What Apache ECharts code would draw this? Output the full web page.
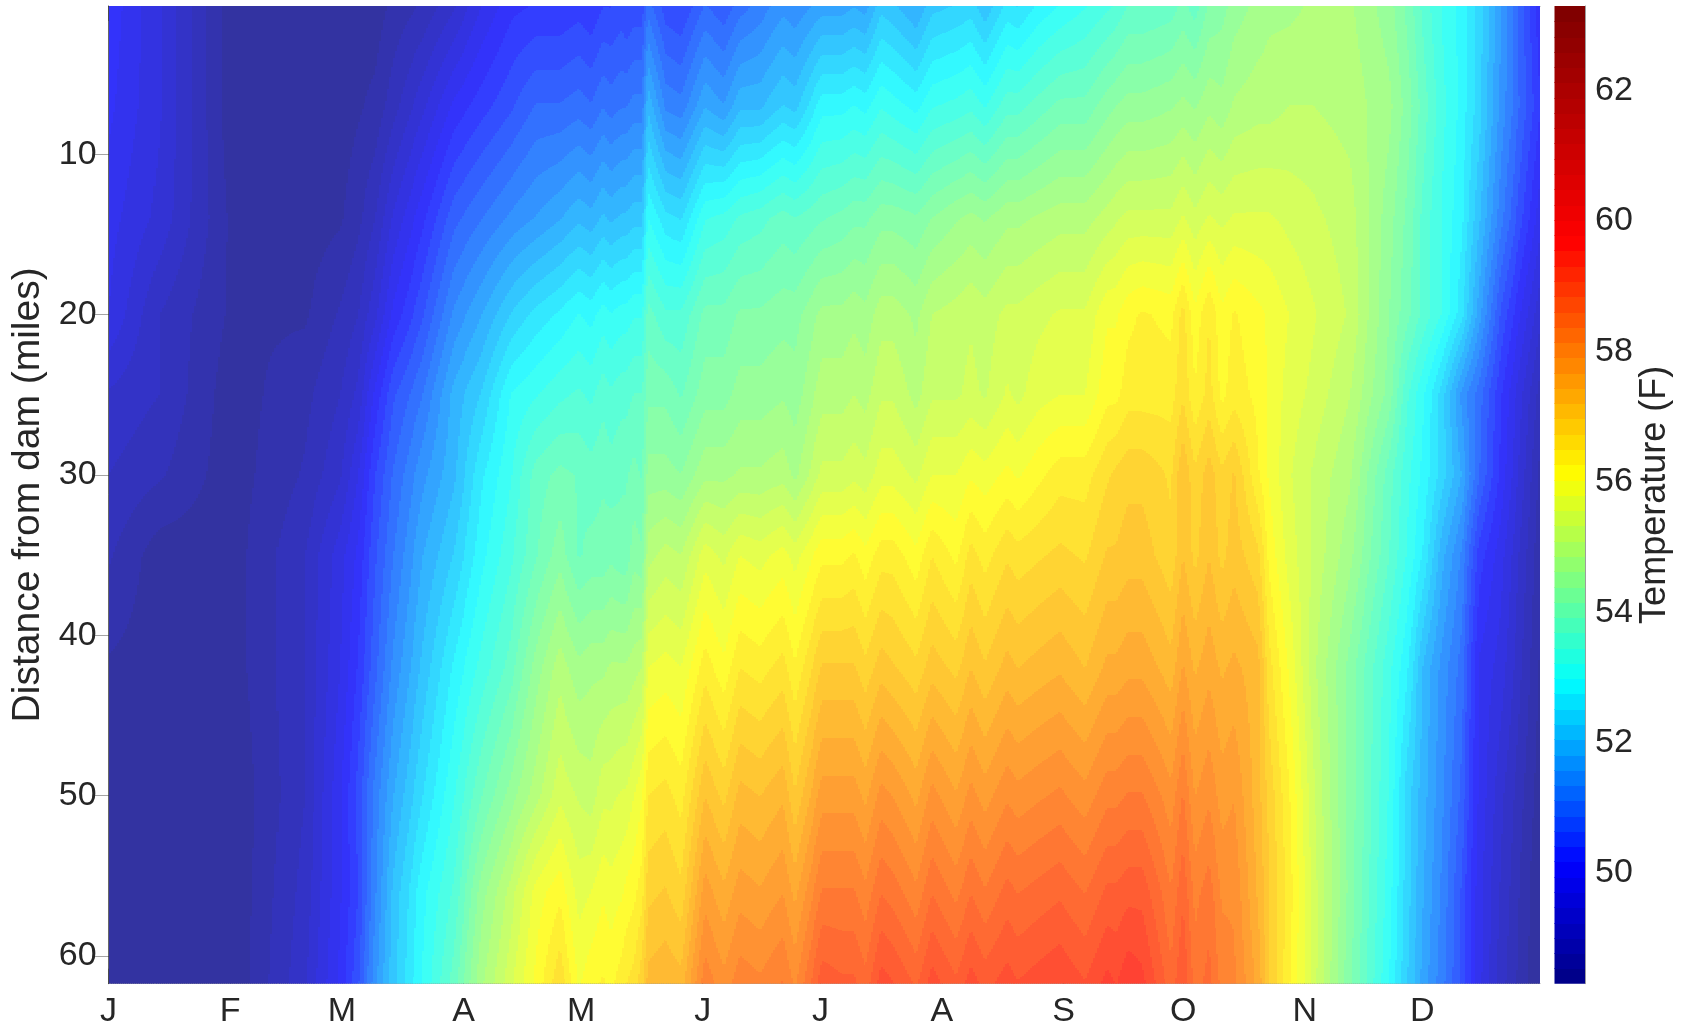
<!DOCTYPE html>
<html>
<head>
<meta charset="utf-8">
<style>html,body{margin:0;padding:0;background:#fff}#c{width:1682px;height:1029px}</style>
<script src="https://cdn.jsdelivr.net/npm/echarts@6/dist/echarts.min.js"></script>
</head>
<body>
<div id="c"></div>
<script>
// Tick labels and positions
const monthLabels = ['J','F','M','A','M','J','J','A','S','O','N','D'];
const monthStarts = [0,31,59.5,90.5,120.5,151.5,181.5,212.5,243.5,274,305,335];
const mileTicks = [10,20,30,40,50,60];
const tempTicks = [50,52,54,56,58,60,62];
const tempMin = 48.3, tempMax = 63.3;

// Sample days (columns)
const days = [0,13,31,50,59,63.5,68,72.5,80,88,95,102.5,109,115,
 120,123,126,128,131,132,134,136,137.5,142,146,152,157,161,166,172,175,182,187,190,193,197,200,206,210,216,220,223.5,229,232,237,242.5,249,254.5,257,260,263.5,271,274,277,280.5,284,287,
 293,296,301,307,316.5,326.5,331,335.5,340,345,349.5,355,365];
// Sample distances (rows)
const miles = [0.75,7,14,20,25,30,35,42,50,56,61.73];

// Temperature (F) read along each distance
const tempMile01 = [50.1,49.5,48.4,48.4,48.4,48.4,48.4,48.6,48.8,49.2,49.7,50.1,50.2,50.2,
 50.3,50.2,50.4,50.4,50.5,50.4,50.5,50.5,51.0,50.5,50.4,50.9,50.7,51.0,51.2,51.5,51.4,51.7,51.7,51.8,51.7,52.2,52.1,51.8,52.2,52.3,52.4,52.1,52.6,52.5,52.8,53.0,53.2,53.4,53.5,53.7,53.7,53.8,54.0,53.8,54.2,54.3,54.5,
 54.7,54.8,54.8,54.9,54.9,54.5,54.1,53.6,53.2,52.9,52.4,51.6,50.0];
const tempMile07 = [50.0,49.5,48.4,48.4,48.4,48.5,48.6,48.9,49.4,50.0,50.3,50.6,50.9,50.9,
 51.0,50.9,51.1,51.0,51.1,51.1,51.2,51.2,52.0,51.3,51.2,51.8,51.6,52.0,52.0,52.3,52.2,52.9,52.9,53.0,52.9,53.2,53.1,52.9,53.2,53.3,53.4,53.2,53.6,53.6,53.8,54.0,54.0,54.3,54.4,54.5,54.5,54.6,54.7,54.6,54.8,54.7,54.9,
 55.0,55.0,55.1,55.1,55.0,54.7,54.3,53.8,53.3,52.9,52.4,51.5,50.2];
const tempMile14 = [49.8,49.4,48.5,48.4,48.5,48.7,49.0,49.5,50.1,50.8,51.1,51.4,51.6,51.8,
 52.0,51.9,52.1,52.0,52.1,52.1,52.2,52.2,53.0,52.6,52.5,53.2,53.3,53.5,53.6,53.8,53.7,53.9,54.0,54.1,54.1,54.3,54.3,54.2,54.4,54.6,54.7,54.6,54.8,54.8,54.9,55.0,55.0,55.2,55.3,55.4,55.4,55.4,55.6,55.4,55.6,55.5,55.6,
 55.6,55.6,55.5,55.4,55.2,54.5,54.1,53.6,53.2,52.8,52.1,51.2,49.8];
const tempMile20 = [49.7,49.0,48.5,48.5,48.8,49.0,49.4,50.0,50.6,51.4,51.8,52.3,52.6,52.8,
 53.0,52.9,53.1,53.0,53.1,53.1,53.2,53.2,53.8,53.5,53.5,54.0,54.0,54.2,54.2,54.3,54.3,54.7,54.7,54.8,54.7,55.0,55.0,54.8,55.1,55.2,55.3,55.2,55.4,55.4,55.5,55.6,55.6,56.0,56.0,56.2,56.3,56.2,56.6,56.1,56.5,56.1,56.3,
 56.1,56.0,55.8,55.6,55.3,54.4,54.0,53.6,53.2,52.6,51.7,50.6,49.3];
const tempMile25 = [49.2,49.0,48.4,48.7,49.0,49.3,50.0,50.6,51.1,51.9,52.3,53.0,53.2,53.4,
 53.5,53.4,53.6,53.5,53.6,53.6,53.7,53.7,54.1,54.1,53.9,54.3,54.3,54.5,54.5,54.6,54.5,55.0,55.0,55.1,55.0,55.3,55.3,55.0,55.3,55.3,55.4,55.3,55.6,55.5,55.7,55.8,55.8,56.2,56.2,56.4,56.4,56.4,56.7,56.3,56.6,56.2,56.4,
 56.2,56.0,55.7,55.5,55.1,54.3,53.5,53.0,52.4,51.5,51.0,50.2,48.9];
const tempMile30 = [49.0,48.8,48.4,48.8,49.2,49.7,50.4,50.9,51.5,52.0,52.7,53.2,53.8,54.0,
 53.9,53.8,53.9,53.8,53.9,53.9,54.0,53.9,54.5,54.5,54.4,54.8,54.8,54.9,54.9,55.0,54.8,55.4,55.4,55.5,55.4,55.7,55.7,55.5,55.8,55.8,56.0,55.9,56.1,56.0,56.2,56.4,56.4,56.7,56.8,56.9,56.9,56.7,57.2,56.8,57.1,56.8,57.0,
 56.3,56.0,55.6,55.3,54.9,53.8,53.3,52.9,52.4,51.8,50.9,50.1,48.7];
const tempMile35 = [48.8,48.4,48.4,49.0,49.6,50.0,50.6,51.1,51.8,52.3,52.9,53.4,53.9,54.3,
 53.9,54.0,54.0,54.1,54.0,54.0,54.3,54.2,55.0,55.2,55.1,55.7,55.5,55.8,55.7,55.9,55.7,56.2,56.2,56.3,56.1,56.4,56.4,56.1,56.5,56.2,56.6,56.4,56.7,56.6,56.7,56.8,56.7,57.0,57.0,57.1,57.1,56.8,57.2,56.9,57.2,56.9,57.1,
 56.8,56.2,55.7,55.3,54.7,53.7,53.2,52.7,51.9,51.3,50.3,49.8,48.6];
const tempMile42 = [48.5,48.4,48.4,49.0,49.7,50.2,50.8,51.4,52.1,52.8,53.3,53.8,54.5,55.0,
 54.7,54.8,54.8,54.9,54.9,54.9,55.0,55.1,55.8,55.9,55.8,56.4,56.1,56.5,56.4,56.6,56.3,57.0,57.0,57.0,56.8,57.1,57.0,56.8,57.1,56.9,57.2,57.0,57.3,57.2,57.3,57.4,57.2,57.5,57.5,57.6,57.6,57.3,57.7,57.4,57.6,57.4,57.5,
 57.3,56.6,56.0,55.2,54.3,53.3,52.8,52.0,51.5,51.0,49.9,49.6,48.5];
const tempMile50 = [48.4,48.3,48.3,49.0,49.9,50.5,51.2,51.8,52.5,53.2,53.9,54.5,55.0,55.5,
 55.3,55.2,55.5,55.5,55.6,55.6,55.8,56.0,56.5,56.6,56.4,57.2,56.9,57.3,57.2,57.4,57.0,57.8,57.8,57.8,57.6,58.0,57.9,57.6,58.0,57.7,58.0,57.8,58.1,58.0,58.1,58.2,58.0,58.3,58.3,58.4,58.4,58.0,58.4,57.9,58.1,57.8,57.9,
 57.3,56.9,56.3,55.4,54.3,53.2,52.4,51.9,51.4,50.8,49.9,49.3,48.4];
const tempMile56 = [48.4,48.3,48.3,49.1,49.9,50.4,51.3,52.1,52.9,53.5,54.5,55.2,55.9,56.2,
 55.7,55.8,56.0,55.9,56.0,56.1,56.2,56.4,56.9,57.0,56.8,57.8,57.5,57.8,57.7,57.9,57.6,58.4,58.4,58.4,58.2,58.6,58.5,58.2,58.6,58.3,58.6,58.4,58.7,58.6,58.7,58.8,58.6,58.9,58.9,59.0,59.0,58.4,58.8,58.3,58.5,58.1,58.1,
 57.4,57.0,56.4,55.5,54.3,53.1,52.4,51.8,51.3,50.6,49.8,49.2,48.3];
const tempMile62 = [48.4,48.3,48.3,49.2,50.0,50.6,51.5,52.2,53.0,53.8,54.8,55.5,56.1,56.7,
 56.0,56.2,56.3,56.2,56.4,56.5,56.6,56.9,57.3,57.4,57.3,58.3,58.0,58.3,58.2,58.4,58.1,59.0,58.9,58.9,58.7,59.2,59.1,58.8,59.2,58.9,59.2,59.0,59.2,59.1,59.2,59.3,59.1,59.4,59.3,59.5,59.4,58.7,59.1,58.5,58.7,58.3,58.2,
 57.6,57.0,56.3,55.5,54.2,53.0,52.3,51.7,51.2,50.6,49.8,49.1,48.3];

const tempRows = [tempMile01,tempMile07,tempMile14,tempMile20,tempMile25,tempMile30,tempMile35,tempMile42,tempMile50,tempMile56,tempMile62];

// Colormap: the reference's jet-like ramp in 64 steps
const rampStops = [[0,[0,0,130]],[0.123,[0,0,255]],[0.31,[0,255,255]],[0.52,[255,255,0]],[0.76,[255,0,0]],[1,[125,0,0]]];
const LEVELS = 64;
function rampColor(f){
  for(let i=1;i<rampStops.length;i++){
    if(f<=rampStops[i][0]){
      const a=rampStops[i-1],b=rampStops[i],t=(f-a[0])/(b[0]-a[0]);
      return a[1].map((c,j)=>c+(b[1][j]-c)*t);
    }
  }
  return rampStops[rampStops.length-1][1];
}
function css(c){return 'rgb('+c.map(Math.round).join(',')+')';}
const solidLevels=[], faceLevels=[];
for(let k=0;k<LEVELS;k++){
  const c=rampColor((k+0.5)/LEVELS);
  solidLevels.push(css(c));
  faceLevels.push(css(c.map(v=>v*0.8+255*0.2)));  // surface drawn at 80% alpha on white
}
function levelOf(t){return Math.max(0,Math.min(LEVELS-1,Math.floor((t-tempMin)/(tempMax-tempMin)*LEVELS)));}

// Filled-contour look: each strip gets a vertical gradient with hard stops at level crossings
function stripStops(vals,offs){
  const st=[]; let cur=levelOf(vals[0]);
  st.push({offset:0,color:faceLevels[cur]});
  for(let r=0;r<vals.length-1;r++){
    const a=vals[r],b=vals[r+1],target=levelOf(b);
    while(cur!==target){
      const dir=target>cur?1:-1;
      const edge=tempMin+(dir>0?cur+1:cur)*(tempMax-tempMin)/LEVELS;
      const t=Math.min(1,Math.max(0,(edge-a)/((b-a)||1)));
      const o=offs[r]+(offs[r+1]-offs[r])*t;
      st.push({offset:o,color:faceLevels[cur]});
      cur+=dir;
      st.push({offset:o,color:faceLevels[cur]});
    }
  }
  st.push({offset:1,color:faceLevels[cur]});
  return st;
}

function renderSurface(params,api){
  const i=params.dataIndex;
  if(i>=days.length-1) return {type:'group',children:[]};
  const ys=miles.map(m=>api.coord([0,m])[1]);
  const top=ys[0],bot=ys[ys.length-1];
  const offs=ys.map(y=>(y-top)/(bot-top));
  const x0=api.coord([days[i],miles[0]])[0], x1=api.coord([days[i+1],miles[0]])[0];
  const xEnd=api.coord([days[days.length-1],miles[0]])[0];
  const n=Math.max(1,Math.round((x1-x0)/2));
  const children=[];
  for(let s=0;s<n;s++){
    const f=(s+0.5)/n;
    const vals=tempRows.map(r=>r[i]*(1-f)+r[i+1]*f);
    const xa=Math.round(x0+(x1-x0)*s/n), xb=Math.min(Math.round(x0+(x1-x0)*(s+1)/n)+1,Math.round(xEnd));
    if(xb<=xa) continue;
    children.push({type:'rect',silent:true,shape:{x:xa,y:top,width:xb-xa,height:bot-top},
      style:{fill:{type:'linear',x:0,y:0,x2:0,y2:1,global:false,colorStops:stripStops(vals,offs)},stroke:null}});
  }
  return {type:'group',children};
}

function renderColorbar(params,api){
  const k=params.dataIndex;
  const step=(tempMax-tempMin)/LEVELS;
  const lo=tempMin+k*step, hi=lo+step;
  const a=api.coord([0,hi]), b=api.coord([1,lo]);
  return {type:'rect',silent:true,shape:{x:a[0],y:Math.round(a[1]),width:b[0]-a[0],height:Math.round(b[1])-Math.round(a[1])+(k?1:0)},style:{fill:solidLevels[k]}};
}

const ink='#262626', frame='rgba(38,38,38,0.45)', tickC='rgba(38,38,38,0.42)';
const labelFont={fontFamily:'Liberation Sans',fontSize:34,color:ink};
const chart=echarts.init(document.getElementById('c'),null,{renderer:'canvas'});
chart.setOption({
  animation:false,
  backgroundColor:'#fff',
  grid:[
    {left:108.6,top:6,width:1431.4,height:977.7,containLabel:false},
    {left:1554.5,top:6,width:30.5,height:977.7,containLabel:false}
  ],
  xAxis:[
    {gridIndex:0,type:'value',min:0,max:365,position:'bottom',splitLine:{show:false},
     axisLine:{show:true,lineStyle:{color:frame,width:1}},
     axisTick:{show:true,inside:true,length:15,customValues:monthStarts,lineStyle:{color:tickC,width:1}},
     axisLabel:Object.assign({show:true,margin:11,customValues:monthStarts,hideOverlap:false,
       formatter:v=>monthLabels[monthStarts.indexOf(v)]},labelFont)},
    {gridIndex:0,type:'value',min:0,max:365,position:'top',splitLine:{show:false},
     axisLine:{show:true,lineStyle:{color:frame,width:1}},
     axisTick:{show:true,inside:true,length:15,customValues:monthStarts,lineStyle:{color:tickC,width:1}},
     axisLabel:{show:false}},
    {gridIndex:1,type:'value',min:0,max:1,position:'bottom',show:false}
  ],
  yAxis:[
    {gridIndex:0,type:'value',inverse:true,min:0.75,max:61.73,position:'left',splitLine:{show:false},
     name:'Distance from dam (miles)',nameLocation:'middle',nameGap:50,
     nameTextStyle:{fontFamily:'Liberation Sans',fontSize:39,color:ink},
     axisLine:{show:true,lineStyle:{color:frame,width:1}},
     axisTick:{show:true,inside:true,length:14,customValues:mileTicks,lineStyle:{color:tickC,width:1}},
     axisLabel:Object.assign({show:true,margin:12,customValues:mileTicks},labelFont)},
    {gridIndex:0,type:'value',inverse:true,min:0.75,max:61.73,position:'right',splitLine:{show:false},
     axisLine:{show:true,lineStyle:{color:frame,width:1}},
     axisTick:{show:true,inside:true,length:14,customValues:mileTicks,lineStyle:{color:tickC,width:1}},
     axisLabel:{show:false}},
    {gridIndex:1,type:'value',min:tempMin,max:tempMax,position:'right',splitLine:{show:false},
     name:'Temperature (F)',nameLocation:'middle',nameGap:51,nameRotate:90,
     nameTextStyle:{fontFamily:'Liberation Sans',fontSize:36,color:ink},
     axisLine:{show:true,onZero:false,lineStyle:{color:frame,width:1}},
     axisTick:{show:true,inside:true,length:11,customValues:tempTicks,lineStyle:{color:tickC,width:1}},
     axisLabel:Object.assign({show:true,margin:10,customValues:tempTicks},labelFont)}
  ],
  series:[
    {type:'custom',name:'Temperature',coordinateSystem:'cartesian2d',xAxisIndex:0,yAxisIndex:0,silent:true,clip:true,
     z:1,progressive:0,renderItem:renderSurface,data:days.map(d=>[d,miles[0]]),encode:{x:0,y:1}},
    {type:'custom',name:'Colorbar',coordinateSystem:'cartesian2d',xAxisIndex:2,yAxisIndex:2,silent:true,clip:true,
     z:1,progressive:0,renderItem:renderColorbar,data:solidLevels.map((c,k)=>[0,tempMin+(k+0.5)*(tempMax-tempMin)/LEVELS]),encode:{x:0,y:1}}
  ]
});
</script>
</body>
</html>
